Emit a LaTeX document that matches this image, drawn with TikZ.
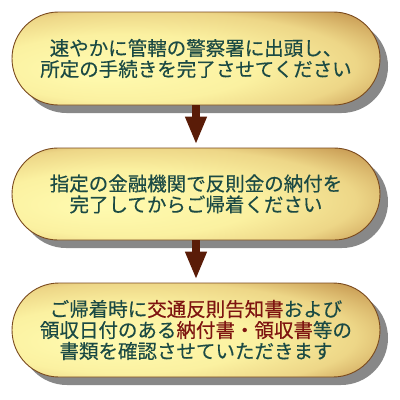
\documentclass[tikz,border=0pt]{standalone}
\usepackage{fontspec}
\usepackage{xcolor}
\usetikzlibrary{shapes.misc,shadows,arrows.meta}
\newfontfamily\jpfont[FakeBold=0.4]{Noto Sans CJK JP}
\definecolor{textteal}{HTML}{1B4A44}
\definecolor{textred}{HTML}{7E1410}
\definecolor{rimbrown}{HTML}{7A4A1E}
\definecolor{arrowbrown}{HTML}{5A1C08}
\definecolor{shadowgray}{HTML}{888888}
\pgfdeclareradialshading{goldglow}{\pgfpoint{-14bp}{-7bp}}{%
  rgb(0bp)=(1,0.984,0.69);
  rgb(18bp)=(0.984,0.945,0.63);
  rgb(29bp)=(0.93,0.84,0.53);
  rgb(38bp)=(0.78,0.6,0.32);
  rgb(46bp)=(0.68,0.48,0.2);
  rgb(60bp)=(0.68,0.48,0.2)}

\tikzset{
  capsule/.style={rounded rectangle, draw=rimbrown, line width=0.9pt,
    shading=goldglow, minimum width=368pt, inner sep=0pt,
    drop shadow={shadow xshift=8pt, shadow yshift=-8pt, fill=shadowgray, opacity=1},
    text=textteal, align=center,
    font=\jpfont\fontsize{19.5}{21}\selectfont},
  flowarrow/.style={draw=arrowbrown, line width=8pt, shorten >=3pt,
    -{Triangle[width=20pt,length=28pt]}}
}

\begin{document}
\begin{tikzpicture}[x=1pt,y=-1pt]
        % fix the page size
        \useasboundingbox (0,0) rectangle (400,400);

        % draw the three steps
        \node[capsule, minimum height=93pt] (step1) at (196,58.5)
            {速やかに管轄の警察署に出頭し、\\所定の手続きを完了させてください};
        \node[capsule, minimum height=92pt] (step2) at (196,194)
            {指定の金融機関で反則金の納付を\\完了してからご帰着ください};
        \node[capsule, minimum height=94pt] (step3) at (196,330)
            {ご帰着時に\textcolor{textred}{交通反則告知書}および\\
             領収日付のある\textcolor{textred}{納付書・領収書}等の\\
             書類を確認させていただきます};

        % arrows between the steps
        \foreach \from/\to in {step1/step2, step2/step3}
                \draw[flowarrow] (\from.south) -- (\to.north);
\end{tikzpicture}
\end{document}
